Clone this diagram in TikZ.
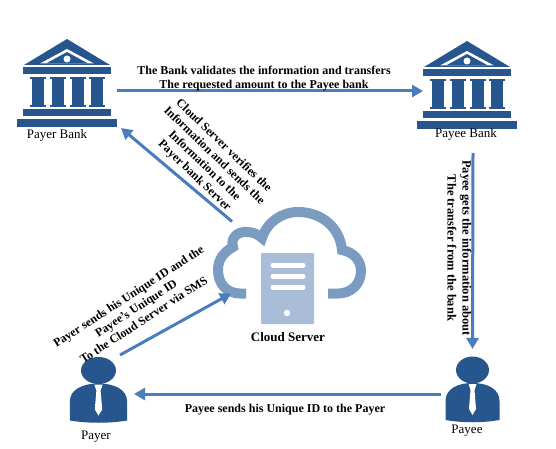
\documentclass[tikz,border=0pt]{standalone}
\usepackage{fontspec}
\setmainfont{Liberation Serif}
\usepackage{tikz}
\usetikzlibrary{positioning, arrows.meta, calc}
\definecolor{iconblue}{HTML}{27568F}
\definecolor{flowblue}{HTML}{4A7DBB}
\definecolor{cloudblue}{HTML}{7B9BC1}
\definecolor{serverblue}{HTML}{A9BDD9}

\begin{document}
\begin{tikzpicture}[
  x=1pt, y=-1pt,
  flow/.style={-{Triangle[length=11pt, width=12pt]}, line width=3pt, flowblue},
  holder/.style={rectangle, minimum width=#1, inner sep=0pt, outer sep=0pt},
  caption/.style={font=\fontsize{13}{15}\selectfont, inner sep=0pt},
  note/.style={font=\fontsize{12}{14}\selectfont\bfseries, align=center, inner sep=0pt},
  bankicon/.pic={
    \fill[iconblue] (0,-44) -- (43,-18) -- (-43,-18) -- cycle;
    \fill[white] (0,-34) -- (27,-19.5) -- (-27,-19.5) -- cycle;
    \fill[iconblue] (0,-31) -- (21,-19.5) -- (-21,-19.5) -- cycle;
    \fill[white] (0,-24) circle (3.5);
    \fill[iconblue] (-44,-16) rectangle (44,-9);
    \foreach \px in {-29,-9,11,30} {
      \fill[iconblue] (\px-6,-4) rectangle (\px+6,22);
      \fill[iconblue] (\px-8,-6) rectangle (\px+8,-4);
      \fill[iconblue] (\px-8,22) rectangle (\px+8,24);
    }
    \fill[iconblue] (-44,26) rectangle (44,33);
    \fill[iconblue] (-50,36) rectangle (50,44);
  },
  personicon/.pic={
    \fill[iconblue] (0,-19) ellipse (16.5 and 13.5);
    \fill[iconblue] (-27,31) -- (-27,12) .. controls (-27,0) and (-15,-6) .. (0,-6)
      .. controls (15,-6) and (27,0) .. (27,12) -- (27,31)
      .. controls (10,34) and (-10,34) .. (-27,31) -- cycle;
    \fill[white] (-4,-5) -- (4,-5) -- (2,1) -- (3.5,20) -- (0,26) -- (-3.5,20) -- (-2,1) -- cycle;
  }
]
  \useasboundingbox (0,0) rectangle (556,449);

  % icons
  \node[holder=100pt, minimum height=88pt] (payerbank) at (67,83) {};
  \node[holder=100pt, minimum height=88pt] (payeebank) at (467,85) {};
  \node[holder=57pt, minimum height=65pt] (payer) at (98.5,389.5) {};
  \node[holder=53pt, minimum height=62pt] (payee) at (472.5,389) {};
  \node[holder=152pt, minimum height=91pt] (cloud) at (289,252) {};
  \pic at (payerbank) {bankicon};
  \pic at (payeebank) {bankicon};
  \pic[xscale=1.06] at (payer) {personicon};
  \pic at (payee) {personicon};

  % cloud with server
  \draw[cloudblue, line width=10pt]
    (246,293.5) -- (240,293.5) .. controls (227,293.5) and (218,284) .. (218,270)
    .. controls (218,259) and (224,252) .. (233,247)
    .. controls (230,238) and (238,231) .. (247,232)
    .. controls (252,232) and (258,234) .. (262,238)
    .. controls (267,222) and (282,212) .. (298,212)
    .. controls (322,212) and (340,228) .. (342,250)
    .. controls (353,252) and (361,260) .. (361,271)
    .. controls (361,284) and (351,293.5) .. (338,293.5) -- (328,293.5);
  \fill[serverblue, rounded corners=1pt] (261,253) rectangle (314,324);
  \foreach \py in {265,276,287} {
    \draw[white, line width=5pt, line cap=round] (273,\py) -- (303,\py);
  }
  \fill[white] (287,313) circle (3.2);

  % connectors
  \draw[flow] ([yshift=-8pt]payerbank.east) -- ([xshift=6pt, yshift=-6pt]payeebank.west);
  \draw[flow] ([xshift=19pt, yshift=-15pt]cloud.north west) -- ([xshift=4pt, yshift=-1pt]payerbank.south east);
  \draw[flow] ([xshift=-7pt, yshift=2pt]payer.north east) -- ([xshift=18pt, yshift=4pt]cloud.south west);
  \draw[flow] ([xshift=6pt, yshift=-24pt]payeebank.south) -- ([yshift=9pt]payee.north);
  \draw[flow] ([xshift=-5pt, yshift=-5pt]payee.west) -- ([xshift=7pt, yshift=-4.5pt]payer.east);

  % captions
  \node[caption] (payerbanklabel) at (57,135) {Payer Bank};
  \node[caption] (payeebanklabel) at (466,134) {Payee Bank};
  \node[caption] (payerlabel) at (96,437) {Payer};
  \node[caption] (payeelabel) at (467,431) {Payee};
  \node[note, font=\fontsize{13}{15}\selectfont\bfseries] (cloudlabel) at (288,337) {Cloud Server};

  % notes on the connectors
  \node[note] (validate) at (264,78.5) {The Bank validates the information and transfers\\The requested amount to the Payee bank};
  \node[note, rotate=-44] (verify) at (209,161) {Cloud Server verifies the\\Information and sends the\\Information to the\\Payer bank Server};
  \node[note, rotate=33] (send) at (136,308) {Payer sends his Unique ID and the\\Payee's Unique ID\\To the Cloud Server via SMS};
  \node[note, rotate=-90, font=\fontsize{12.5}{15}\selectfont\bfseries] (inform) at (459.5,248) {Payee gets the information about\\The transfer from the bank};
  \node[note] (swap) at (285,410) {Payee sends his Unique ID to the Payer};
\end{tikzpicture}
\end{document}
